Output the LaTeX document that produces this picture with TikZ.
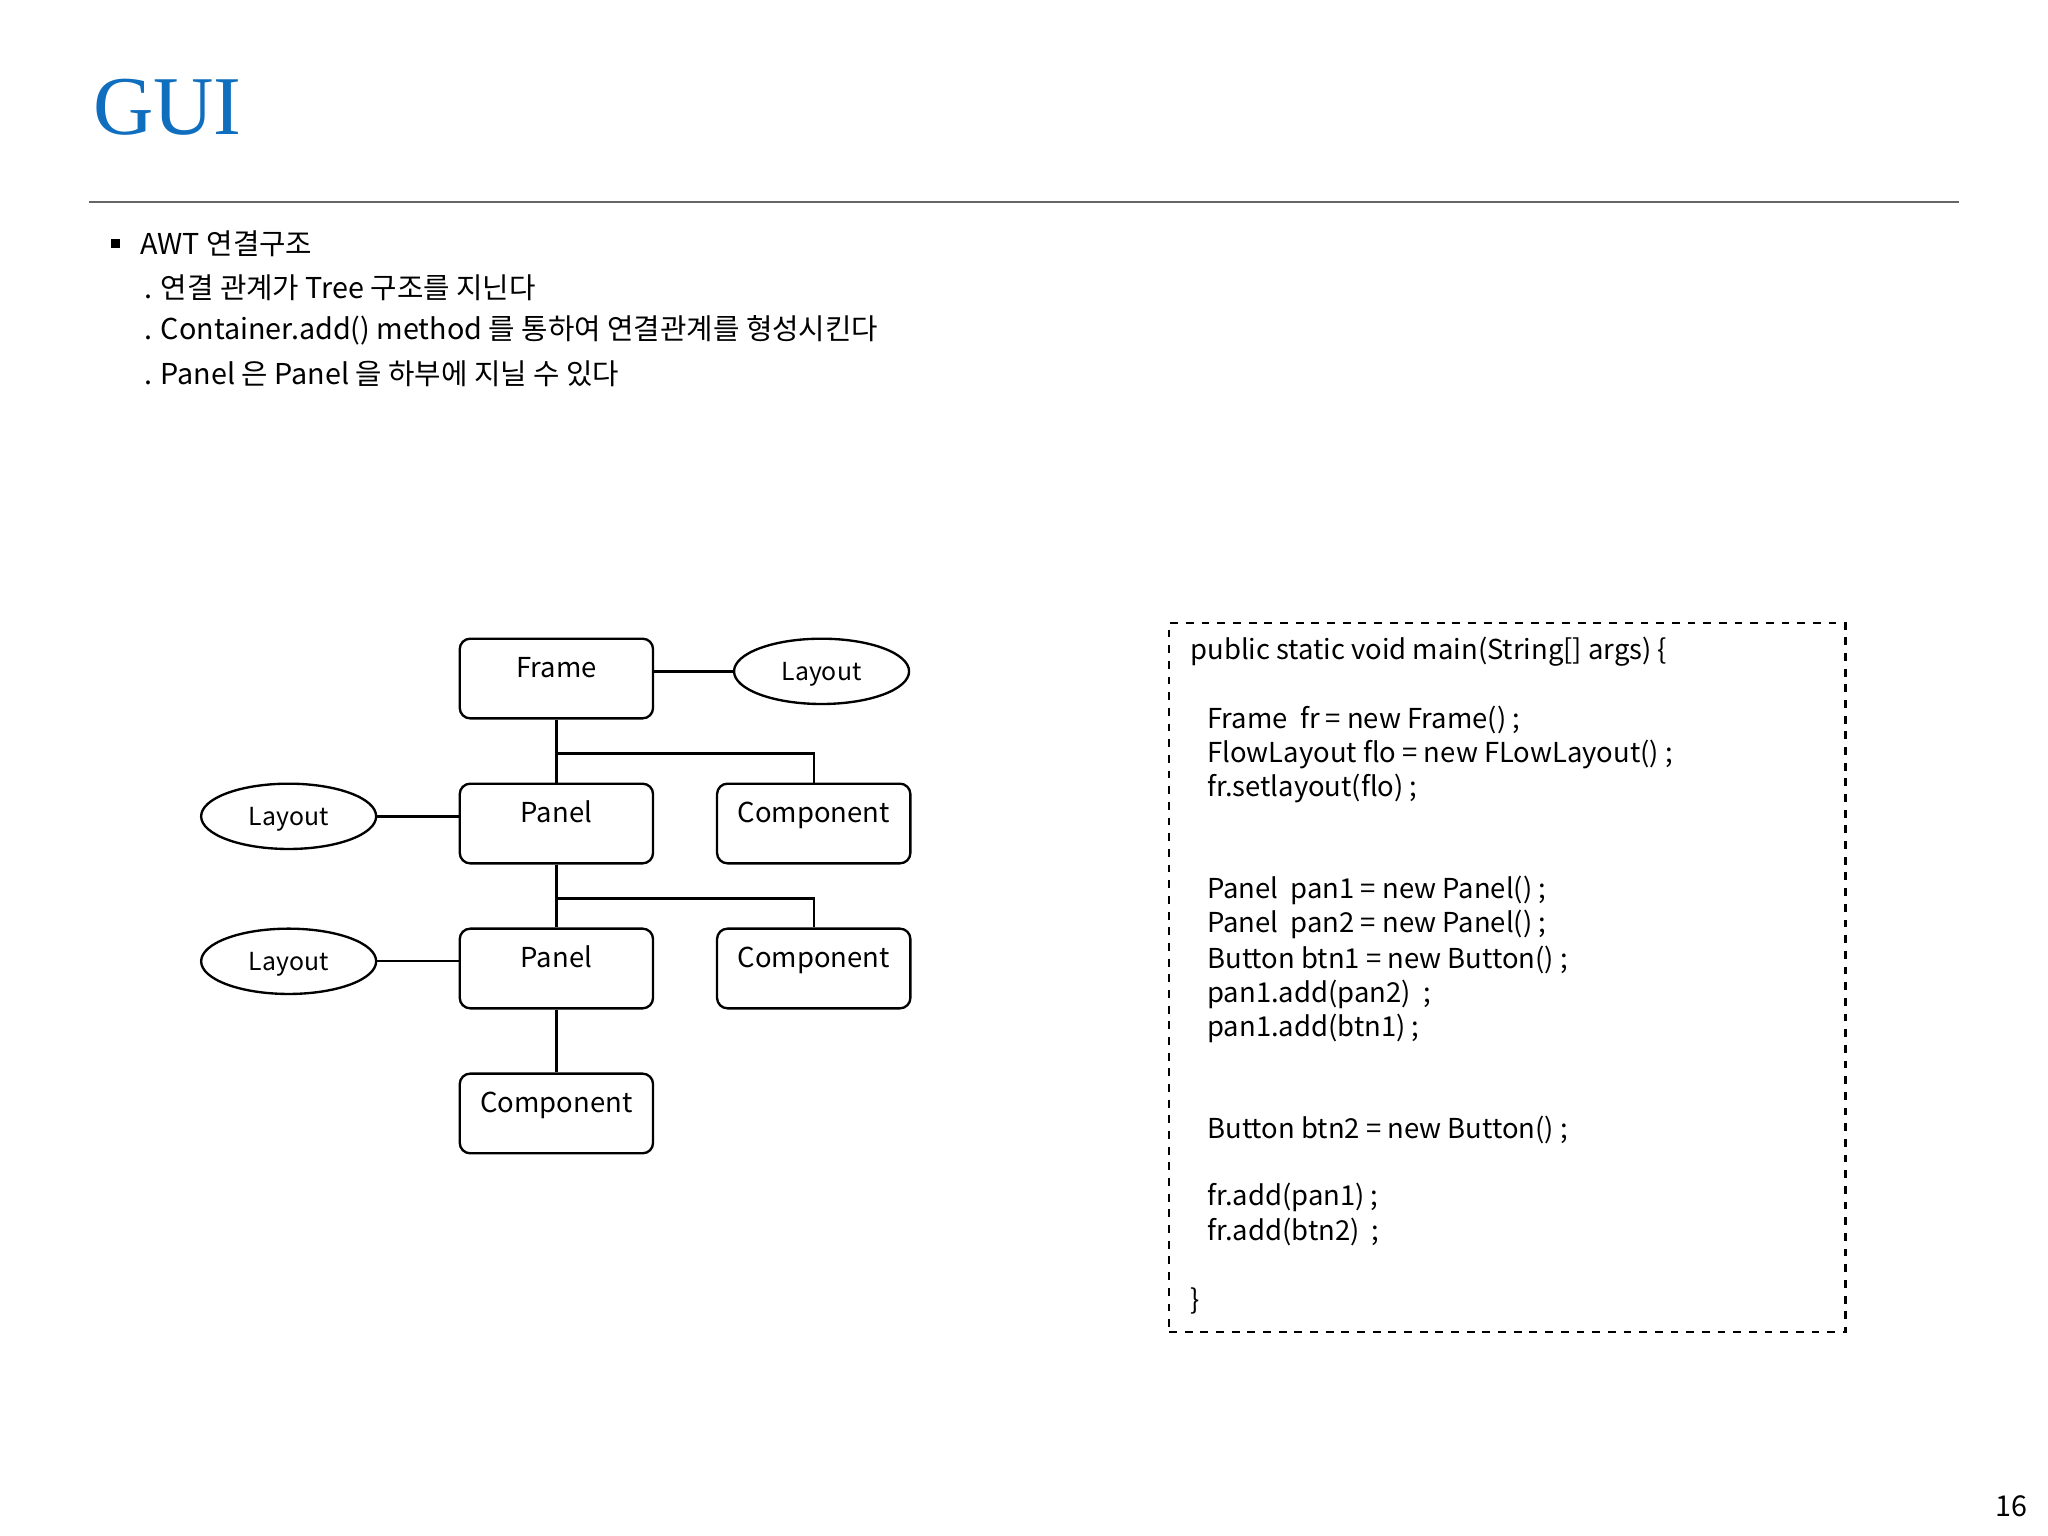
\documentclass[tikz,border=0pt]{standalone}
\usepackage{fontspec}
\setmainfont{Noto Sans CJK KR}
\newfontfamily\titlefont{Liberation Serif}
\usetikzlibrary{shapes.geometric}
\definecolor{titleblue}{RGB}{16,110,190}
\begin{document}
\begin{tikzpicture}[x=0.5pt,y=-0.5pt,
  box/.style={draw,line width=0.9pt,rounded corners=4pt,minimum width=74pt,minimum height=30.5pt,text depth=4.5pt,text height=4pt,font=\fontsize{10.5}{12}\selectfont},
  oval/.style={draw,line width=0.9pt,ellipse,minimum width=67pt,minimum height=25pt,inner sep=0pt,text height=7pt,text depth=-1pt,font=\fontsize{9.5}{11}\selectfont},
  con/.style={line width=0.9pt},
  txt/.style={anchor=west,inner sep=0pt,font=\fontsize{11}{13}\selectfont},
  code/.style={anchor=west,inner sep=0pt,font=\fontsize{10.5}{12}\selectfont}]
\useasboundingbox[fill=white] (0,0) rectangle (1568,1176);
\node[anchor=west,inner sep=0pt,text=titleblue,font=\titlefont\fontsize{32}{36}\selectfont] (title) at (71,82) {GUI};
\draw[gray!80!black,line width=0.8pt] (68,155) -- (1500,155);
\fill (85,183) rectangle (92,190);
\node[txt] (l1) at (107,187) {AWT 연결구조};
\node[txt] (l2) at (110,220) {. 연결 관계가 Tree 구조를 지닌다};
\node[txt] (l3) at (110,253) {. Container.add() method 를 통하여 연결관계를 형성시킨다};
\node[txt] (l4) at (110,286) {. Panel 은 Panel 을 하부에 지닐 수 있다};
% tree
\node[box] (frame) at (426,519.5) {Frame};
\node[oval] (lay0) at (629,514) {Layout};
\node[box] (pan1) at (426,630.5) {Panel};
\node[box] (comp1) at (623,630.5) {Component};
\node[oval] (lay1) at (221,625) {Layout};
\node[box] (pan2) at (426,741.5) {Panel};
\node[box] (comp2) at (623,741.5) {Component};
\node[oval] (lay2) at (221,736) {Layout};
\node[box] (comp3) at (426,852.5) {Component};
\draw[con] (frame.south) -- (pan1.north);
\draw[con] (frame.south) ++(0,26) -| (comp1.north);
\draw[con] (pan1.south) -- (pan2.north);
\draw[con] (pan1.south) ++(0,26) -| (comp2.north);
\draw[con] (pan2.south) -- (comp3.north);
\draw[con] (frame.east |- lay0) -- (lay0.west);
\draw[con] (lay1.east) -- (lay1 -| pan1.west);
\draw[con] (lay2.east) -- (lay2 -| pan2.west);
% code
\node[draw,dashed,line width=0.9pt,minimum width=259pt,minimum height=271.5pt,inner sep=0pt] (codebox) at (1154,748.5) {};
\node[code] (c0) at (911,499) {public static void main(String[] args) \{};
\node[code] (c1) at (924,551) {Frame\ \ fr = new Frame() ;};
\node[code] (c2) at (924,578) {FlowLayout flo = new FLowLayout() ;};
\node[code] (c3) at (924,604) {fr.setlayout(flo) ;};
\node[code] (c4) at (924,682) {Panel\ \ pan1 = new Panel() ;};
\node[code] (c5) at (924,708) {Panel\ \ pan2 = new Panel() ;};
\node[code] (c6) at (924,735) {Button btn1 = new Button() ;};
\node[code] (c7) at (924,761) {pan1.add(pan2)\ \ ;};
\node[code] (c8) at (924,787) {pan1.add(btn1) ;};
\node[code] (c9) at (924,865) {Button btn2 = new Button() ;};
\node[code] (c10) at (924,917) {fr.add(pan1) ;};
\node[code] (c11) at (924,943) {fr.add(btn2)\ \ ;};
\node[code] (c12) at (911,996) {\}};
\node[inner sep=0pt,font=\fontsize{11}{13}\selectfont] (page) at (1540,1153) {16};
\end{tikzpicture}
\end{document}
